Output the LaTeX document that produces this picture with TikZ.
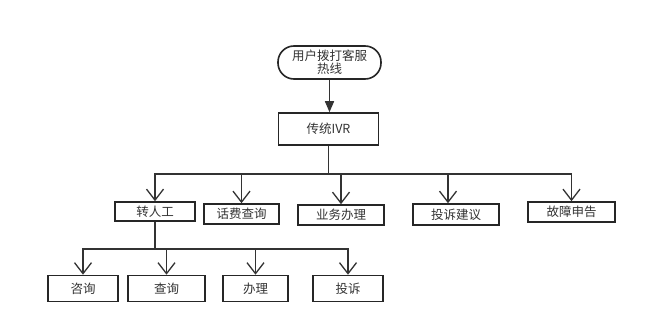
\documentclass[tikz,border=0pt]{standalone}
\usepackage{fontspec}
\setmainfont{Noto Sans CJK SC}
\usetikzlibrary{arrows.meta}
\begin{document}
\begin{tikzpicture}[x=1pt,y=-1pt,
  box/.style={draw=black!85,line width=1.6pt,inner sep=0pt,font=\fontsize{12.5}{14}\selectfont,text=black!80},
  conn/.style={draw=black!80,line width=1.5pt},
  arr/.style={conn,-{Straight Barb[length=11pt,width=17pt,line width=1.3pt]}}]
\useasboundingbox (0,0) rectangle (648,334);
\fill[white] (0,0) rectangle (648,334);
\node[box,rounded corners=16pt,minimum width=103pt,minimum height=33pt,align=center,font=\fontsize{12.5}{13}\selectfont] (top) at (329.5,62.5) {用户拨打客服\\热线};
\node[box,minimum width=100pt,minimum height=32pt] (ivr) at (328.5,129) {传统IVR};
\node[box,minimum width=80pt,minimum height=19pt] (zr) at (155,211.5) {转人工};
\node[box,minimum width=75pt,minimum height=20pt] (hf) at (241.5,214) {话费查询};
\node[box,minimum width=86pt,minimum height=20pt] (yw) at (341,215) {业务办理};
\node[box,minimum width=86pt,minimum height=21pt] (ts) at (456,214.5) {投诉建议};
\node[box,minimum width=87pt,minimum height=20pt] (gz) at (571.5,212) {故障申告};
\node[box,minimum width=70pt,minimum height=26pt] (zx) at (83,288.5) {咨询};
\node[box,minimum width=77pt,minimum height=26pt] (cx) at (166.5,288.5) {查询};
\node[box,minimum width=65pt,minimum height=26pt] (bl) at (255.5,288.5) {办理};
\node[box,minimum width=70pt,minimum height=26pt] (tt) at (348,288.5) {投诉};
\draw[conn,-{Triangle[length=11pt,width=9pt]}] (top.south) -- (top.south |- ivr.north);
\coordinate (bus1) at (328.5,174);
\coordinate (bus2) at (155,249);
\draw[conn] (ivr.south) -- (bus1);
\foreach \n in {zr,hf,yw,gz} \draw[arr] (bus1) -| (\n.north);
\draw[arr] (bus1) -| ([xshift=-8pt]ts.north);
\draw[conn] (zr.south) -- (bus2);
\foreach \n in {zx,cx,bl,tt} \draw[arr] (bus2) -| (\n.north);
\end{tikzpicture}
\end{document}
